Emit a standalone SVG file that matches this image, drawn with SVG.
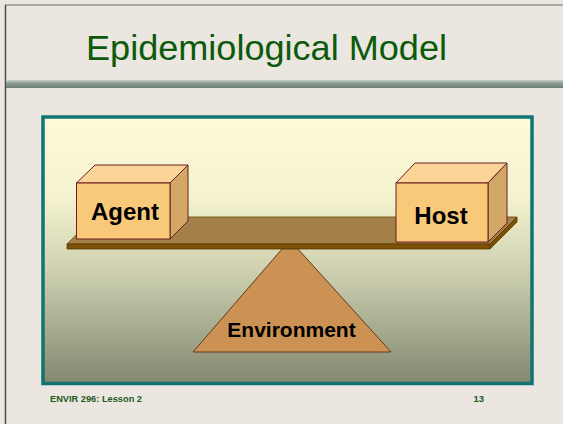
<svg xmlns="http://www.w3.org/2000/svg" width="563" height="424" viewBox="0 0 563 424">
<defs>
<linearGradient id="panelGrad" x1="0" y1="0" x2="0" y2="1">
<stop offset="0" stop-color="#fcfad8"/>
<stop offset="0.3" stop-color="#f4f2cf"/>
<stop offset="0.55" stop-color="#d2d4b4"/>
<stop offset="0.8" stop-color="#a6aa8e"/>
<stop offset="1" stop-color="#838770"/>
</linearGradient>
<linearGradient id="ruleGrad" x1="0" y1="0" x2="0" y2="1">
<stop offset="0" stop-color="#c9d0ca"/>
<stop offset="0.4" stop-color="#8e9d93"/>
<stop offset="1" stop-color="#6c7d72"/>
</linearGradient>
<style>
.box-front{fill:#f9c97a;stroke:#6b1f1f;stroke-width:1}
.box-top{fill:#fad597;stroke:#6b1f1f;stroke-width:1}
.box-side{fill:#d3a866;stroke:#6b1f1f;stroke-width:1}
.lbl{font-family:"Liberation Sans",Arial,sans-serif;font-weight:bold;fill:#000;text-anchor:middle}
.foot{font-family:"Liberation Sans",Arial,sans-serif;font-weight:bold;fill:#1d5a1d;font-size:9.5px}
</style>
</defs>
<rect x="0" y="0" width="563" height="424" fill="#ebe6df"/>
<line x1="5" y1="5" x2="563" y2="5" stroke="#6a6a6a" stroke-width="1.2"/>
<line x1="5.5" y1="5" x2="5.5" y2="424" stroke="#4a4a4a" stroke-width="1.5"/>
<text x="266.5" y="59.5" font-family="'Liberation Sans',Arial,sans-serif" font-size="35" fill="#0c5a0c" text-anchor="middle" textLength="361" lengthAdjust="spacingAndGlyphs">Epidemiological Model</text>
<rect x="6" y="80" width="557" height="8" fill="url(#ruleGrad)"/>
<g id="panel">
<rect x="43" y="117" width="489" height="266.5" fill="url(#panelGrad)" stroke="#107570" stroke-width="3.5"/>
</g>
<g id="beam">
<polygon points="94,217 517,217 490,244 67,244" fill="#a3804a" stroke="#6b4500" stroke-width="0.8"/>
<polygon points="67,244 490,244 490,249 67,249" fill="#7c5005" stroke="#5a3a00" stroke-width="0.8"/>
<polygon points="490,244 517,217 517,222 490,249" fill="#7c5005" stroke="#5a3a00" stroke-width="0.8"/>
</g>
<g id="environment">
<polygon points="282,249 298,249 391,352 193,352" fill="#cc9253" stroke="#5e3a1a" stroke-width="1"/>
<text class="lbl" x="291.5" y="337" font-size="21">Environment</text>
</g>
<g id="agent">
<polygon class="box-top" points="76.5,183 95,165 188,165 170,183"/>
<polygon class="box-side" points="170,183 188,165 188,221 170,239"/>
<rect class="box-front" x="76.5" y="183" width="93.5" height="56"/>
<text class="lbl" x="125" y="220" font-size="24">Agent</text>
</g>
<g id="host">
<polygon class="box-top" points="396,183 415,163 507,163 488,183"/>
<polygon class="box-side" points="488,183 507,163 507,223 488,242"/>
<rect class="box-front" x="396" y="183" width="92" height="59"/>
<text class="lbl" x="441" y="224" font-size="24">Host</text>
</g>
<text class="foot" x="50" y="402" textLength="92" lengthAdjust="spacingAndGlyphs">ENVIR 296: Lesson 2</text>
<text class="foot" x="484" y="402" text-anchor="end">13</text>
</svg>
